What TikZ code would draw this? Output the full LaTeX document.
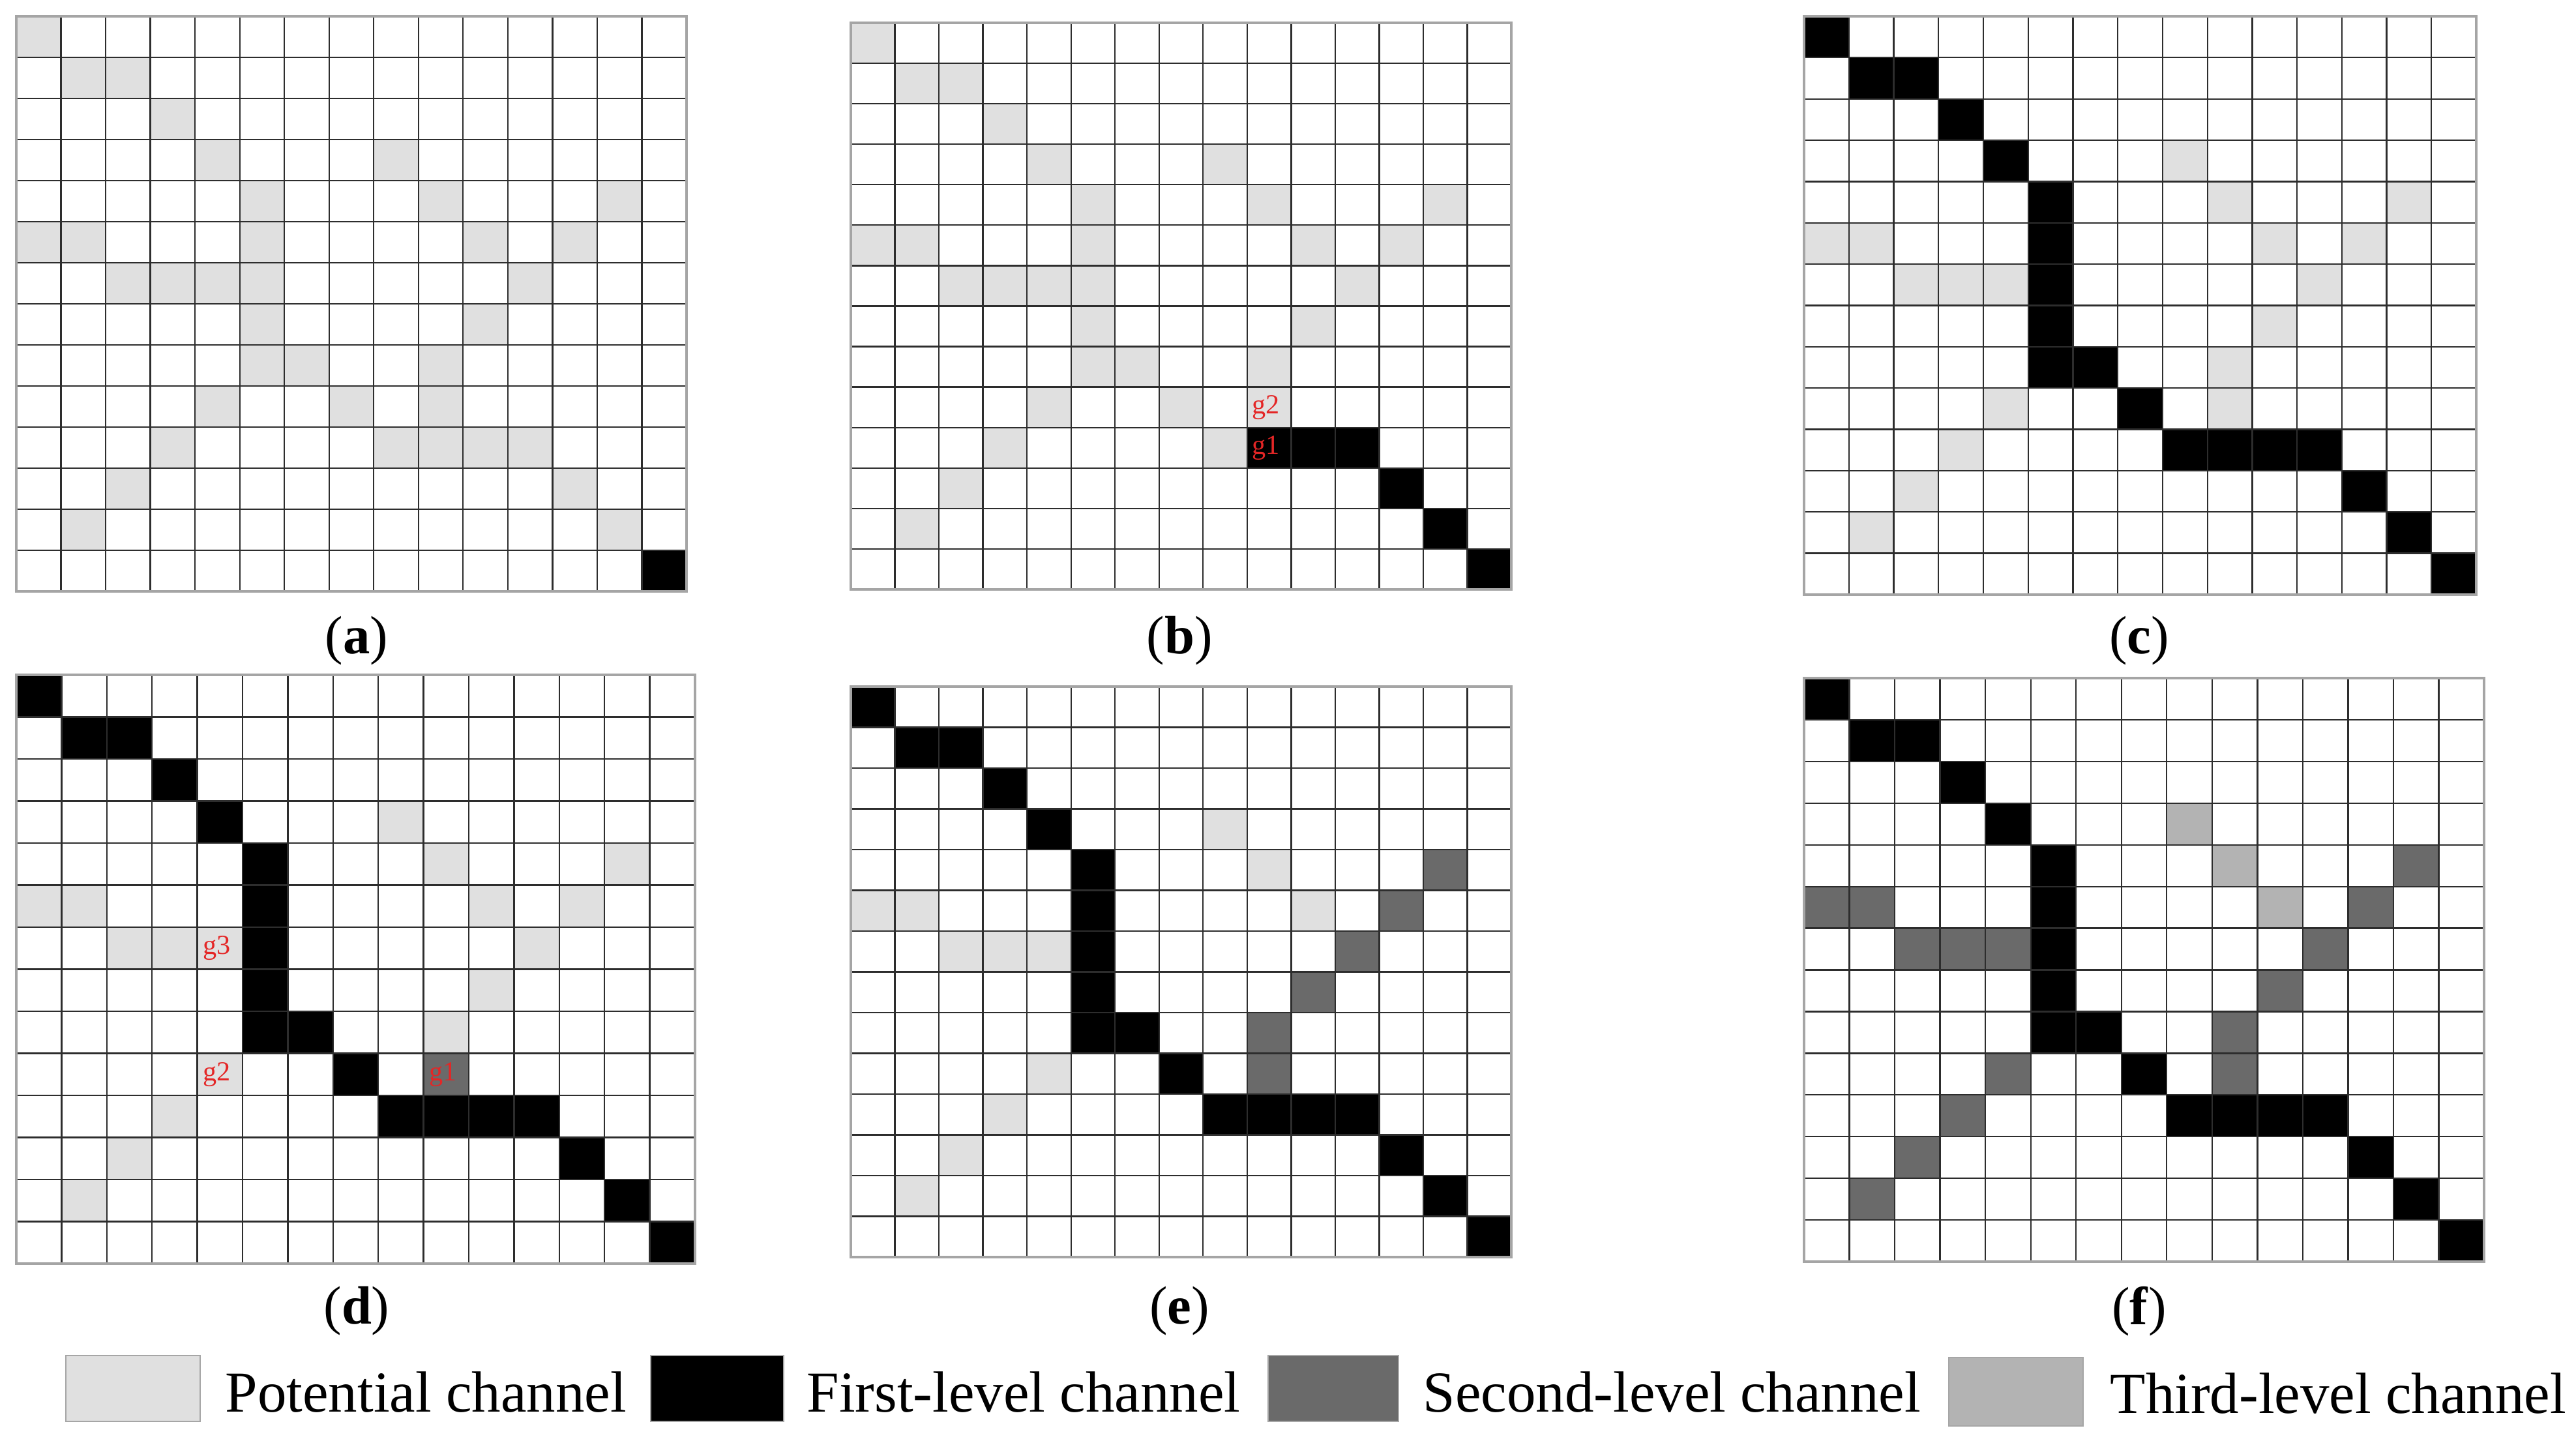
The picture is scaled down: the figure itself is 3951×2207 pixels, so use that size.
\documentclass[tikz,border=0pt]{standalone}
\usepackage{fontspec}
\setmainfont{Liberation Serif}
\definecolor{potgray}{RGB}{224,224,224}
\definecolor{secgray}{RGB}{106,106,106}
\definecolor{thigray}{RGB}{179,179,179}
\definecolor{glabred}{RGB}{228,38,38}
\definecolor{linegray}{RGB}{45,45,45}
\definecolor{bordergray}{RGB}{165,165,165}
\tikzset{
 pot/.style={fill=potgray},
 fst/.style={fill=black},
 sec/.style={fill=secgray},
 thd/.style={fill=thigray},
 gridline/.style={draw=linegray, line width=0.65pt},
 gridborder/.style={draw=bordergray, line width=1pt},
 glab/.style={text=glabred, font=\fontsize{12}{14}\selectfont, inner sep=0pt, anchor=west},
 sublab/.style={font=\fontsize{23.5}{28}\selectfont, inner sep=0pt},
 legbox/.style={draw=gray!70, line width=0.4pt},
 legtext/.style={font=\fontsize{25.3}{30}\selectfont, inner sep=0pt, anchor=base west},
}
\newcommand\cellrow[3]{\foreach \cc in {#3}{\fill[#1] (\cc,#2) rectangle ++(1,1);}}
\newcommand\cellgrid[5]{%
 \pgfmathsetmacro\mycw{(#3-#1)/15}%
 \pgfmathsetmacro\mych{(#4-#2)/14}%
 \begin{scope}[shift={(#1,#2)}, xscale=\mycw, yscale=\mych]
 #5
 \foreach \i in {1,...,14}{\draw[gridline] (\i,0) -- (\i,14);}
 \foreach \j in {1,...,13}{\draw[gridline] (0,\j) -- (15,\j);}
 \draw[gridborder] (0,0) rectangle (15,14);
 \end{scope}}
\newcommand\firstpath{%
 \cellrow{fst}{0}{0}\cellrow{fst}{1}{1,2}\cellrow{fst}{2}{3}\cellrow{fst}{3}{4}
 \cellrow{fst}{4}{5}\cellrow{fst}{5}{5}\cellrow{fst}{6}{5}\cellrow{fst}{7}{5}
 \cellrow{fst}{8}{5,6}\cellrow{fst}{9}{7}\cellrow{fst}{10}{8,9,10,11}
 \cellrow{fst}{11}{12}\cellrow{fst}{12}{13}\cellrow{fst}{13}{14}}
\begin{document}
\begin{tikzpicture}[x=0.01cm, y=-0.01cm]
\useasboundingbox (0,0) rectangle (3951,2207);
\fill[white] (0,0) rectangle (3951,2207);

% (a)
\cellgrid{25}{25}{1053}{907}{%
 \cellrow{pot}{0}{0}\cellrow{pot}{1}{1,2}\cellrow{pot}{2}{3}\cellrow{pot}{3}{4,8}
 \cellrow{pot}{4}{5,9,13}\cellrow{pot}{5}{0,1,5,10,12}\cellrow{pot}{6}{2,3,4,5,11}
 \cellrow{pot}{7}{5,10}\cellrow{pot}{8}{5,6,9}\cellrow{pot}{9}{4,7,9}
 \cellrow{pot}{10}{3,8,9,10,11}\cellrow{pot}{11}{2,12}\cellrow{pot}{12}{1,13}
 \cellrow{fst}{13}{14}}

% (b)
\cellgrid{1305}{35}{2318}{904}{%
 \cellrow{pot}{0}{0}\cellrow{pot}{1}{1,2}\cellrow{pot}{2}{3}\cellrow{pot}{3}{4,8}
 \cellrow{pot}{4}{5,9,13}\cellrow{pot}{5}{0,1,5,10,12}\cellrow{pot}{6}{2,3,4,5,11}
 \cellrow{pot}{7}{5,10}\cellrow{pot}{8}{5,6,9}\cellrow{pot}{9}{4,7,9}
 \cellrow{pot}{10}{3,8}\cellrow{fst}{10}{9,10,11}
 \cellrow{pot}{11}{2}\cellrow{fst}{11}{12}
 \cellrow{pot}{12}{1}\cellrow{fst}{12}{13}
 \cellrow{fst}{13}{14}
 \node[glab] (bg2) at (9.1,9.5) {g2};
 \node[glab] (bg1) at (9.1,10.5) {g1};}

% (c)
\cellgrid{2767}{25}{3798}{912}{%
 \firstpath
 \cellrow{pot}{3}{8}\cellrow{pot}{4}{9,13}\cellrow{pot}{5}{0,1,10,12}
 \cellrow{pot}{6}{2,3,4,11}\cellrow{pot}{7}{10}\cellrow{pot}{8}{9}
 \cellrow{pot}{9}{4,9}\cellrow{pot}{10}{3}\cellrow{pot}{11}{2}\cellrow{pot}{12}{1}}

% (d)
\cellgrid{25}{1035}{1066}{1938}{%
 \firstpath
 \cellrow{pot}{3}{8}\cellrow{pot}{4}{9,13}\cellrow{pot}{5}{0,1,10,12}
 \cellrow{pot}{6}{2,3,4,11}\cellrow{pot}{7}{10}\cellrow{pot}{8}{9}
 \cellrow{pot}{9}{4}\cellrow{sec}{9}{9}
 \cellrow{pot}{10}{3}\cellrow{pot}{11}{2}\cellrow{pot}{12}{1}
 \node[glab] (dg3) at (4.12,6.5) {g3};
 \node[glab] (dg2) at (4.12,9.5) {g2};
 \node[glab] (dg1) at (9.12,9.5) {g1};}

% (e)
\cellgrid{1305}{1053}{2318}{1928}{%
 \firstpath
 \cellrow{pot}{3}{8}\cellrow{pot}{4}{9}\cellrow{sec}{4}{13}
 \cellrow{pot}{5}{0,1,10}\cellrow{sec}{5}{12}
 \cellrow{pot}{6}{2,3,4}\cellrow{sec}{6}{11}
 \cellrow{sec}{7}{10}\cellrow{sec}{8}{9}
 \cellrow{pot}{9}{4}\cellrow{sec}{9}{9}
 \cellrow{pot}{10}{3}\cellrow{pot}{11}{2}\cellrow{pot}{12}{1}}

% (f)
\cellgrid{2767}{1040}{3810}{1935}{%
 \firstpath
 \cellrow{thd}{3}{8}\cellrow{thd}{4}{9}\cellrow{sec}{4}{13}
 \cellrow{sec}{5}{0,1,12}\cellrow{thd}{5}{10}
 \cellrow{sec}{6}{2,3,4,11}\cellrow{sec}{7}{10}\cellrow{sec}{8}{9}
 \cellrow{sec}{9}{4,9}\cellrow{sec}{10}{3}\cellrow{sec}{11}{2}\cellrow{sec}{12}{1}}

% sub-figure labels
\node[sublab] (la) at (547,983) {(\textbf{a})};
\node[sublab] (lb) at (1809,983) {(\textbf{b})};
\node[sublab] (lc) at (3281,983) {(\textbf{c})};
\node[sublab] (ld) at (547,2011) {(\textbf{d})};
\node[sublab] (le) at (1809,2011) {(\textbf{e})};
\node[sublab] (lf) at (3281,2011) {(\textbf{f})};

% legend
\draw[legbox, fill=potgray] (101,2079) rectangle (307,2180);
\node[legtext] (t1) at (345,2165) {Potential channel};
\draw[legbox, fill=black] (998,2079) rectangle (1202,2180);
\node[legtext] (t2) at (1237,2165) {First-level channel};
\draw[legbox, fill=secgray] (1945,2079) rectangle (2145,2180);
\node[legtext] (t3) at (2182,2165) {Second-level channel};
\draw[legbox, fill=thigray] (2989,2082) rectangle (3195,2187);
\node[legtext] (t4) at (3236,2167) {Third-level channel};
\end{tikzpicture}
\end{document}
